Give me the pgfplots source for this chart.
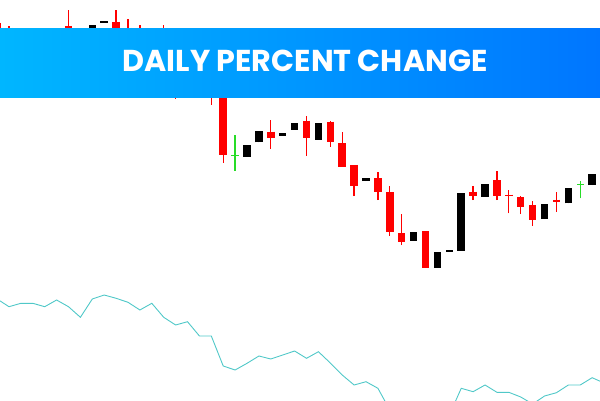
\documentclass[border=0pt]{standalone}
\usepackage{pgfplots}
\pgfplotsset{compat=1.18}
\usepackage{pgfplotstable}
\usepackage{fontspec}
\newfontfamily\pop{Poppins}
\definecolor{candred}{RGB}{255,0,0}
\definecolor{candgreen}{RGB}{40,220,40}
\definecolor{linecol}{RGB}{80,200,200}
\definecolor{banL}{RGB}{0,182,255}
\definecolor{banR}{RGB}{0,118,255}

% x = candle index, o = open, h = high, l = low, c = close
\pgfplotstableread{
x  o     h     l     c
-1 377   378   355   360
0  372   374   350   355
2  360   365   340   345
5  374   390   350   355
6  355   360   335   340
9  378   390   355   360
10 372   381   355   360
11 365   375   345   350
13 360   375   335   340
14 345   350   301   320
17 325   328   295   310
18 315   320   237.3 245
22 268.3 280   251   261.5
25 279.3 284   244.3 261.7
27 278.3 279.3 253.3 258.3
28 256.7 268.3 233.3 233.3
29 235   235   204   214.3
31 221.7 228.3 200   208.3
32 208   214   164.5 168.3
33 166.7 186   155   157.7
35 169   169   132.3 132.3
39 208.3 214   200   204.3
41 220   229   200   204
42 205.4 210   186.7 204
43 202.7 204   186   192.7
44 195   199   174.3 180
46 200.3 207.7 188.3 198
}\redtab

\pgfplotstableread{
x  o     h     l     c
1  350   368   345   365
3  348   365   344   362
4  360   372   355   372
7  355   375   350   375
8  377   379   377   379
12 345   365   340   360
15 320   345   315   340
16 315   335   303   330
20 243.3 255   243.3 255
21 257.7 269   257.7 269
23 264   267.3 264   267.3
24 270   277.3 270   277.3
26 260   276.7 260   276.7
30 219   221.7 219   221.7
34 159.3 168   159.3 168
36 132.3 148.3 132.3 148.3
37 148.3 150   148.3 150
38 149.3 207.3 149.3 207.3
40 203.3 216   203.3 216
45 181   196   181   196
47 196.7 211.7 196.7 211.7
49 215   225.7 215   225.7
}\blacktab

\pgfplotstableread{
x  o     h     l     c
19 243.8 265   229.3 244.8
48 215.5 219   201.7 216.5
}\greentab

\pgfplotstableread{
x  v
-1 101
0  93.3
1  96.7
2  96.7
3  93.3
4  100
5  93.3
6  82.7
7  101
8  105
9  101.7
10 97.7
11 90
12 96.7
13 82.7
14 75
15 78.3
16 64
17 64
18 34
19 30
20 36.7
21 44
22 41
23 45
24 49
25 41.7
26 48.3
27 37
28 25
29 15
30 18.3
31 11.7
32 -10
33 -20
34 -25
35 -40
36 -30
37 -15
38 11.7
39 8.3
40 15
41 7.7
42 7.7
43 3
44 -4
45 4
46 7.3
47 15
48 15
49 22.3
50 17
}\linetab

\begin{document}
\begin{tikzpicture}
\begin{axis}[
  width=600pt, height=400pt, scale only axis,
  hide axis,
  xmin=-0.7563, xmax=49.66,
  ymin=0, ymax=400,
  clip=true,
]
% indicator line
\addplot[linecol, line width=0.9pt, mark=none] table[x=x, y=v] {\linetab};
% wicks
\addplot[candred, line width=1.3pt, quiver={u=0, v=\thisrow{h}-\thisrow{l}}, mark=none, draw=none]
  table[x=x, y=l] {\redtab};
\addplot[black, line width=1.3pt, quiver={u=0, v=\thisrow{h}-\thisrow{l}}, mark=none, draw=none]
  table[x=x, y=l] {\blacktab};
\addplot[candgreen, line width=1.4pt, quiver={u=0, v=\thisrow{h}-\thisrow{l}}, mark=none, draw=none]
  table[x=x, y=l] {\greentab};
% bodies
\addplot[candred, line width=7.5pt, quiver={u=0, v=\thisrow{c}-\thisrow{o}}, mark=none, draw=none]
  table[x=x, y=o] {\redtab};
\addplot[black, line width=7.5pt, quiver={u=0, v=\thisrow{c}-\thisrow{o}}, mark=none, draw=none]
  table[x=x, y=o] {\blacktab};
\addplot[candgreen, line width=7.5pt, quiver={u=0, v=\thisrow{c}-\thisrow{o}}, mark=none, draw=none]
  table[x=x, y=o] {\greentab};
\end{axis}
% banner
\shade[left color=banL, right color=banR] (0pt,303pt) rectangle (600pt,371pt);
\node[anchor=base, text=white, inner sep=0pt] at (305pt,328pt)
  {\pop\bfseries\fontsize{30.2}{30.2}\selectfont DAILY PERCENT CHANGE};
\pgfresetboundingbox
\useasboundingbox (0pt,0pt) rectangle (600pt,400pt);
\end{tikzpicture}
\end{document}
